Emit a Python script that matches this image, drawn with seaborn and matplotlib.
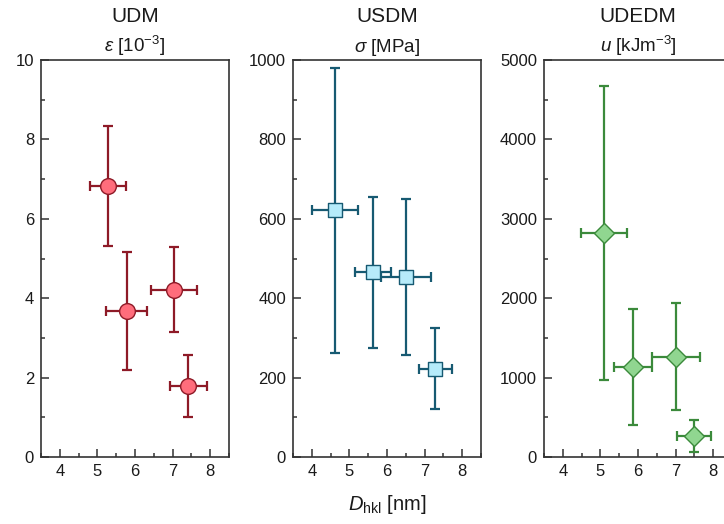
import matplotlib
matplotlib.use("Agg")
import matplotlib.pyplot as plt
from matplotlib.ticker import MultipleLocator
import seaborn as sns
import pandas as pd

# Crystallite size D_hkl [nm] and its uncertainty for each model
udm_d = [5.28, 5.78, 7.04, 7.42]
udm_d_err = [0.48, 0.55, 0.61, 0.50]
udm_strain = [6.83, 3.68, 4.21, 1.79]
udm_strain_err = [1.51, 1.48, 1.07, 0.78]

usdm_d = [4.62, 5.62, 6.51, 7.28]
usdm_d_err = [0.61, 0.48, 0.66, 0.44]
usdm_stress = [621, 465, 454, 222]
usdm_stress_err = [360, 190, 196, 102]

udedm_d = [5.10, 5.86, 7.02, 7.49]
udedm_d_err = [0.61, 0.50, 0.64, 0.45]
udedm_energy = [2823, 1130, 1264, 262]
udedm_energy_err = [1855, 730, 676, 202]

model_names = ["UDM", "USDM", "UDEDM"]
quantity_labels = [r"$\mathit{ε}$ [10$^{-3}$]", r"$\mathit{σ}$ [MPa]",
                   r"$\mathit{u}$ [kJm$^{-3}$]"]
x_label = r"$D_{\mathrm{hkl}}$ [nm]"

sns.set_theme(style="ticks")
plt.rcParams["font.family"] = ["Liberation Sans", "DejaVu Sans"]
plt.rcParams["mathtext.fontset"] = "custom"
plt.rcParams["mathtext.rm"] = "Liberation Sans"
plt.rcParams["mathtext.it"] = "Liberation Sans:italic"
plt.rcParams["mathtext.bf"] = "Liberation Sans:bold"

panels = [
    dict(x=udm_d, xerr=udm_d_err, y=udm_strain, yerr=udm_strain_err,
         marker="o", size=11.3, face="#ff6d7c", edge="#8e1a27",
         ymax=10, major=2, minor=1),
    dict(x=usdm_d, xerr=usdm_d_err, y=usdm_stress, yerr=usdm_stress_err,
         marker="s", size=10.3, face="#b6ebfa", edge="#175a72",
         ymax=1000, major=200, minor=100),
    dict(x=udedm_d, xerr=udedm_d_err, y=udedm_energy, yerr=udedm_energy_err,
         marker="D", size=10.2, face="#90d690", edge="#3b8a3b",
         ymax=5000, major=1000, minor=500),
]

fig = plt.figure(figsize=(7.24, 5.24), dpi=100)
W, H = 724, 524
lefts = [41, 293, 544]
ax_w, ax_top, ax_bot = 188, 60, 457

spine_col = "#333333"
axes = []
for i, p in enumerate(panels):
    ax = fig.add_axes([lefts[i] / W, (H - ax_bot) / H, ax_w / W, (ax_bot - ax_top) / H])
    axes.append(ax)
    df = pd.DataFrame({"D": p["x"], "v": p["y"]})
    ax.errorbar(df["D"], df["v"], xerr=p["xerr"], yerr=p["yerr"], fmt="none",
                ecolor=p["edge"], elinewidth=1.6, capsize=3.8, capthick=1.6,
                zorder=2)
    sns.scatterplot(data=df, x="D", y="v", ax=ax, marker=p["marker"],
                    s=p["size"] ** 2, color=p["face"], edgecolor=p["edge"],
                    linewidth=1.0, zorder=3, legend=False)
    ax.set_xlim(3.5, 8.5)
    ax.set_ylim(0, p["ymax"])
    ax.xaxis.set_major_locator(MultipleLocator(1))
    ax.xaxis.set_minor_locator(MultipleLocator(0.5))
    ax.yaxis.set_major_locator(MultipleLocator(p["major"]))
    ax.yaxis.set_minor_locator(MultipleLocator(p["minor"]))
    ax.tick_params(which="both", direction="in", top=False, right=False,
                   color=spine_col, width=1.1, labelsize=12,
                   labelcolor="#1a1a1a", pad=5)
    ax.tick_params(which="major", length=6)
    ax.tick_params(which="minor", length=3)
    for s in ax.spines.values():
        s.set_color(spine_col)
        s.set_linewidth(1.2)
    ax.set_xlabel("")
    ax.set_ylabel("")
    ax.annotate(model_names[i], xy=(0.5, 1.0), xycoords="axes fraction",
                xytext=(0, 27), textcoords="offset points", ha="center",
                va="baseline", fontsize=15, color="#1a1a1a")
    ax.annotate(quantity_labels[i], xy=(0.5, 1.0), xycoords="axes fraction",
                xytext=(0, 6), textcoords="offset points", ha="center",
                va="baseline", fontsize=13.5, color="#1a1a1a")

axes[1].set_xlabel(x_label, fontsize=14.5, color="#1a1a1a", labelpad=10)

fig.savefig("out.png", dpi=100)
